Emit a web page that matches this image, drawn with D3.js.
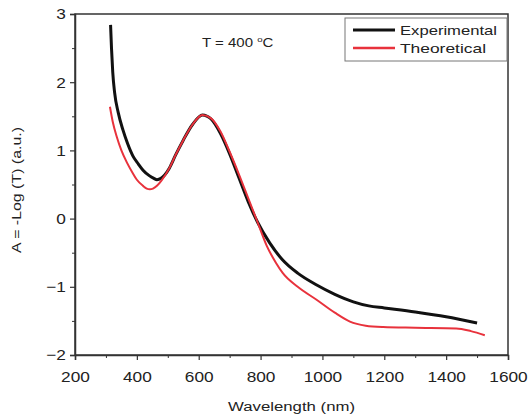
<!doctype html>
<html lang="en">
<head>
    <meta charset="UTF-8">
    <title>Absorbance</title>
    <style>
        body { margin: 0; background: #fff; }
        svg text { font-family: "Liberation Sans", Arial, sans-serif; fill: #222; }
    </style>
</head>
<body>
<div class="canvas"></div>
<script src="https://d3js.org/d3.v7.min.js"></script>
<script>
    // experimental curve
    const expWave = [315, 318, 322, 328, 340, 355, 370, 387, 405, 420, 440, 455, 465, 478, 490, 505, 525, 550, 580, 612, 640, 670, 700, 730, 760, 790, 830, 870, 920, 980, 1040, 1100, 1150, 1200, 1300, 1400, 1500];
    const expAbs  = [2.84, 2.5, 2.15, 1.85, 1.55, 1.3, 1.1, 0.92, 0.8, 0.71, 0.63, 0.59, 0.57, 0.59, 0.64, 0.74, 0.93, 1.15, 1.38, 1.52, 1.46, 1.25, 0.95, 0.6, 0.25, -0.05, -0.36, -0.6, -0.8, -0.97, -1.11, -1.22, -1.28, -1.31, -1.37, -1.44, -1.53];

    // theoretical curve
    const theoWave = [313, 322, 335, 350, 368, 385, 400, 420, 432, 442, 452, 465, 480, 505, 525, 550, 580, 612, 640, 670, 700, 730, 760, 790, 820, 850, 872, 920, 981, 1040, 1089, 1140, 1196, 1300, 1433, 1480, 1525];
    const theoAbs  = [1.64, 1.42, 1.2, 1.0, 0.82, 0.68, 0.57, 0.48, 0.44, 0.43, 0.44, 0.48, 0.56, 0.74, 0.93, 1.15, 1.38, 1.52, 1.47, 1.28, 0.98, 0.65, 0.3, -0.05, -0.4, -0.65, -0.8, -1.0, -1.19, -1.38, -1.51, -1.57, -1.59, -1.6, -1.61, -1.65, -1.71];

    const xTicks = [200, 400, 600, 800, 1000, 1200, 1400, 1600];
    const yTicks = [-2, -1, 0, 1, 2, 3];

    const svgWidth = 529;
    const svgHeight = 420;
    const margin = { top: 14, right: 21, bottom: 65, left: 75 };
    const graphWidth = svgWidth - margin.left - margin.right;
    const graphHeight = svgHeight - margin.top - margin.bottom;

    const svg = d3.select('.canvas').append('svg')
        .attr('width', svgWidth)
        .attr('height', svgHeight);
    const graph = svg.append('g')
        .attr('transform', `translate(${margin.left}, ${margin.top})`);

    const x = d3.scaleLinear().domain([200, 1600]).range([0, graphWidth]);
    const y = d3.scaleLinear().domain([-2, 3]).range([graphHeight, 0]);

    // frame
    graph.append('rect')
        .attr('width', graphWidth)
        .attr('height', graphHeight)
        .attr('fill', 'none')
        .attr('stroke', '#333')
        .attr('stroke-width', 1.5);

    // minor ticks
    const xMinor = d3.range(300, 1600, 200);
    graph.append('g')
        .attr('transform', `translate(0, ${graphHeight})`)
        .call(d3.axisBottom(x).tickValues(xMinor).tickSize(3).tickFormat(''))
        .call(g => g.select('.domain').remove());
    const yMinor = d3.range(-1.5, 3, 1);
    graph.append('g')
        .call(d3.axisLeft(y).tickValues(yMinor).tickSize(3).tickFormat(''))
        .call(g => g.select('.domain').remove());

    const xAxisGroup = graph.append('g')
        .attr('transform', `translate(0, ${graphHeight})`)
        .call(d3.axisBottom(x).tickValues(xTicks).tickSize(5).tickPadding(11).tickFormat(d3.format('d')));
    const yAxisGroup = graph.append('g')
        .call(d3.axisLeft(y).tickValues(yTicks).tickSize(5).tickPadding(3).tickFormat(d3.format('d')));

    [xAxisGroup, yAxisGroup].forEach(g => {
        g.select('.domain').attr('stroke', '#333').attr('stroke-width', 1.5);
        g.selectAll('.tick line').attr('stroke', '#333').attr('stroke-width', 1.2);
        g.selectAll('text')
            .attr('font-size', 15)
            .attr('fill', '#333')
            .attr('transform', 'scale(1.15, 1)');
    });
    graph.selectAll('.tick line').attr('stroke', '#333');

    const line = d3.line()
        .x(d => x(d[0]))
        .y(d => y(d[1]))
        .curve(d3.curveMonotoneX);

    const expData = expWave.map((w, i) => [w, expAbs[i]]);
    const theoData = theoWave.map((w, i) => [w, theoAbs[i]]);

    graph.append('path')
        .datum(expData)
        .attr('d', line)
        .attr('fill', 'none')
        .attr('stroke', '#111')
        .attr('stroke-width', 3);
    graph.append('path')
        .datum(theoData)
        .attr('d', line)
        .attr('fill', 'none')
        .attr('stroke', '#e8323c')
        .attr('stroke-width', 2);

    // annotation
    const note = svg.append('g')
        .attr('transform', 'translate(202, 47) scale(1.2, 1)')
        .append('text')
        .attr('font-size', 12.5);
    note.append('tspan').text('T = 400 ');
    note.append('tspan').attr('dy', -5).attr('font-size', 8).text('o');
    note.append('tspan').attr('dy', 5).text('C');

    // legend
    const legend = svg.append('g').attr('transform', 'translate(345, 18)');
    legend.append('rect')
        .attr('width', 162)
        .attr('height', 43)
        .attr('fill', '#fff')
        .attr('stroke', '#777')
        .attr('stroke-width', 1);
    const legendItems = [
        { name: 'Experimental', color: '#111', w: 3 },
        { name: 'Theoretical', color: '#e8323c', w: 2.5 }
    ];
    legendItems.forEach((d, i) => {
        const row = legend.append('g').attr('transform', `translate(0, ${12 + i * 18})`);
        row.append('line')
            .attr('x1', 8).attr('x2', 50)
            .attr('stroke', d.color)
            .attr('stroke-width', d.w);
        row.append('text')
            .attr('x', 55)
            .attr('y', 5)
            .attr('font-size', 13)
            .attr('textLength', i === 0 ? 97 : 86)
            .attr('lengthAdjust', 'spacingAndGlyphs')
            .text(d.name);
    });

    // axis titles
    svg.append('text')
        .attr('x', 228)
        .attr('y', 411)
        .attr('font-size', 12)
        .attr('textLength', 127)
        .attr('lengthAdjust', 'spacingAndGlyphs')
        .text('Wavelength (nm)');
    svg.append('text')
        .attr('transform', 'translate(21, 253) rotate(-90)')
        .attr('font-size', 12)
        .attr('textLength', 126)
        .attr('lengthAdjust', 'spacingAndGlyphs')
        .text('A = -Log (T) (a.u.)');
</script>
</body>
</html>
